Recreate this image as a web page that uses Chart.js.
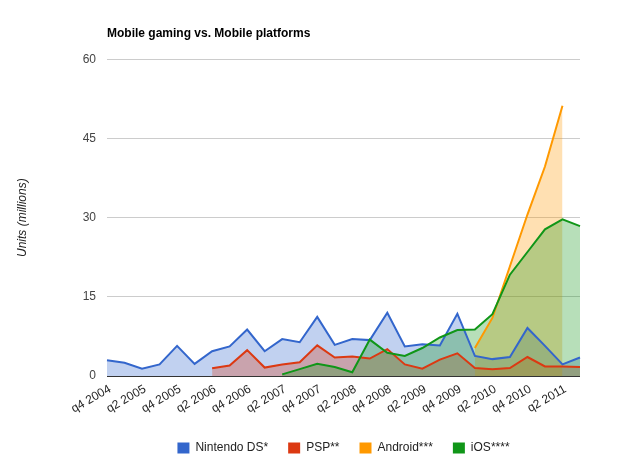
<!DOCTYPE html>
<html><head><meta charset="utf-8">
<script src="https://cdn.jsdelivr.net/npm/chart.js@4"></script>
<style>html,body{margin:0;padding:0;background:#fff}#wrap{width:625px;height:461px}</style>
</head><body><div id="wrap"><canvas id="c" width="625" height="461"></canvas></div>
<script>
const quarters = ["q4 2004","q1 2005","q2 2005","q3 2005","q4 2005","q1 2006","q2 2006","q3 2006","q4 2006","q1 2007","q2 2007","q3 2007","q4 2007","q1 2008","q2 2008","q3 2008","q4 2008","q1 2009","q2 2009","q3 2009","q4 2009","q1 2010","q2 2010","q3 2010","q4 2010","q1 2011","q2 2011","q3 2011"];
const nintendoDS = [3.0,2.5,1.4,2.2,5.7,2.3,4.7,5.6,8.8,4.7,7.0,6.4,11.2,5.9,7.0,6.8,12.0,5.6,6.0,5.8,11.8,3.8,3.2,3.6,9.1,5.7,2.2,3.5];
const psp = [null,null,null,null,null,null,1.45,2.0,4.9,1.6,2.2,2.6,5.8,3.5,3.7,3.3,5.1,2.2,1.4,3.1,4.3,1.5,1.3,1.5,3.6,1.8,1.8,1.7];
const android = [null,null,null,null,null,null,null,null,null,null,null,null,null,null,null,null,null,null,null,null,null,5.3,11.0,20.8,30.6,39.7,51.2,null];
const ios = [null,null,null,null,null,null,null,null,null,null,0.3,1.3,2.3,1.7,0.7,6.9,4.4,3.8,5.3,7.3,8.7,8.8,11.7,19.2,23.5,27.8,29.7,28.4];
const seriesNames = ["Nintendo DS*","PSP**","Android***","iOS****"];
const yTicks = [0,15,30,45,60];

const FONT = "Arial, 'Liberation Sans', sans-serif";
function ds(label, data, color, fill, order){
  return {label, data, borderColor: color, backgroundColor: fill, fill: 'origin',
    borderWidth: 2, pointRadius: 0, tension: 0, order, spanGaps: false};
}
new Chart(document.getElementById('c'), {
  type: 'line',
  data: {
    labels: quarters,
    datasets: [
      ds(seriesNames[0], nintendoDS, '#3366cc', 'rgba(51,102,204,0.3)', 4),
      ds(seriesNames[1], psp, '#dc3912', 'rgba(220,57,18,0.3)', 3),
      ds(seriesNames[2], android, '#ff9900', 'rgba(255,153,0,0.3)', 2),
      ds(seriesNames[3], ios, '#109618', 'rgba(16,150,24,0.3)', 1)
    ]
  },
  options: {
    responsive: false,
    animation: false,
    devicePixelRatio: 1,
    layout: {padding: {left: 10, right: 45, top: 0, bottom: -3}},
    plugins: {
      tooltip: {enabled: false},
      filler: {drawTime: 'beforeDatasetsDraw'},
      title: {display: true, text: 'Mobile gaming vs. Mobile platforms', align: 'start', fullSize: false,
        color: '#000', font: {family: FONT, size: 12, weight: 'bold'}, padding: {top: 26, bottom: 19}},
      legend: {position: 'bottom', fullSize: false, labels: {boxWidth: 12, boxHeight: 11, padding: 20, color: '#222',
        font: {family: FONT, size: 12}, sort: (a, b) => a.datasetIndex - b.datasetIndex,
        generateLabels: chart => Chart.defaults.plugins.legend.labels.generateLabels(chart).map(it => {
          it.fillStyle = it.strokeStyle; it.lineWidth = 0; return it; })}}
    },
    scales: {
      x: {
        grid: {display: false, drawTicks: false},
        border: {display: false},
        ticks: {autoSkip: false, minRotation: 30, maxRotation: 30, padding: 6, labelOffset: 3, color: '#222',
          font: {family: FONT, size: 12},
          callback: function(v, i){ return i % 2 === 0 ? quarters[i] : ''; }},
        afterFit: s => { s.height = 46; }
      },
      y: {
        min: 0, max: 60,
        afterBuildTicks: s => { s.ticks = yTicks.map(v => ({value: v})); },
        grid: {drawTicks: false, color: c => (c.tick && c.tick.value === 0) ? '#333' : '#ccc'},
        border: {display: false},
        ticks: {padding: 11, color: '#444', font: {family: FONT, size: 12}},
        title: {display: true, text: 'Units (millions)', color: '#222', padding: {top: 5, bottom: 0},
          font: {family: FONT, size: 12, style: 'italic'}},
        afterFit: s => { s.width = 97; }
      }
    }
  }
});
</script></body></html>
